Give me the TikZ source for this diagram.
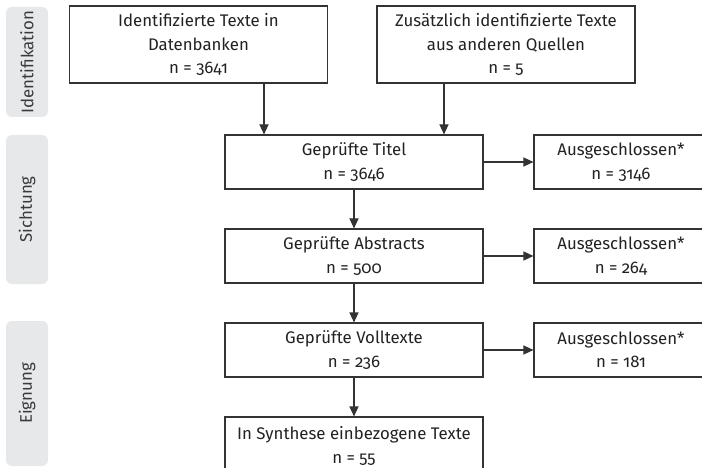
\documentclass[tikz,border=0pt]{standalone}
\usepackage{fontspec}
\setmainfont{Fira Sans}[Numbers=OldStyle]
\usetikzlibrary{arrows.meta}
\definecolor{boxline}{HTML}{333333}
\definecolor{txt}{HTML}{222222}
\definecolor{sidefill}{HTML}{E7E8EA}
\definecolor{sidetxt}{HTML}{3A3A3A}
\tikzset{
  flowbox/.style={draw=boxline, line width=1.1pt, inner sep=0pt, minimum width=258pt, align=center, text=txt, font=\fontsize{16.8}{23.5}\selectfont},
  exclbox/.style={flowbox, minimum width=174pt, minimum height=54pt},
  arr/.style={draw=boxline, line width=1.1pt, -{Triangle[length=10pt,width=9pt]}},
  sidebox/.style={fill=sidefill, rounded corners=6pt, inner sep=0pt, minimum width=42pt},
  sidelabel/.style={rotate=90, text=sidetxt, font=\fontsize{16.8}{20}\selectfont, inner sep=0pt}
}
\begin{document}
\begin{tikzpicture}[x=1pt,y=-1pt]
\clip (0,0) rectangle (702,468);
\fill[white] (0,0) rectangle (702,468);
% side labels
\node[sidebox, minimum height=110pt] (s1) at (27,62) {};
\node[sidelabel] (l1) at (s1.center) {Identifikation};
\node[sidebox, minimum height=149pt] (s2) at (27,209.5) {};
\node[sidelabel] (l2) at (s2.center) {Sichtung};
\node[sidebox, minimum height=145pt] (s3) at (27,393.5) {};
\node[sidelabel] (l3) at (s3.center) {Eignung};
% boxes
\node[flowbox, minimum height=77pt] (A) at (198.5,44.5) {Identifizierte Texte in\\Datenbanken\\n = 3641};
\node[flowbox, minimum height=77pt] (B) at (506,44.5) {Zusätzlich identifizierte Texte\\aus anderen Quellen\\n = 5};
\node[flowbox, minimum height=54pt] (T) at (354,162) {Geprüfte Titel\\n = 3646};
\node[flowbox, minimum height=54pt] (Ab) at (354,256) {Geprüfte Abstracts\\n = 500};
\node[flowbox, minimum height=54pt] (V) at (354,350) {Geprüfte Volltexte\\n = 236};
\node[flowbox, minimum height=58pt] (S) at (354,446) {In Synthese einbezogene Texte\\n = 55};
\node[exclbox] (E1) at (621,162) {Ausgeschlossen*\\n = 3146};
\node[exclbox] (E2) at (621,256) {Ausgeschlossen*\\n = 264};
\node[exclbox] (E3) at (621,350) {Ausgeschlossen*\\n = 181};
% connectors
\coordinate (xa) at (264,0);
\coordinate (xb) at (444,0);
\draw[arr] (A.south -| xa) -- (T.north -| xa);
\draw[arr] (B.south -| xb) -- (T.north -| xb);
\draw[arr] (T) -- (Ab);
\draw[arr] (Ab) -- (V);
\draw[arr] (V) -- (S);
\draw[arr] (T.east) -- (E1.west);
\draw[arr] (Ab.east) -- (E2.west);
\draw[arr] (V.east) -- (E3.west);
\end{tikzpicture}
\end{document}
